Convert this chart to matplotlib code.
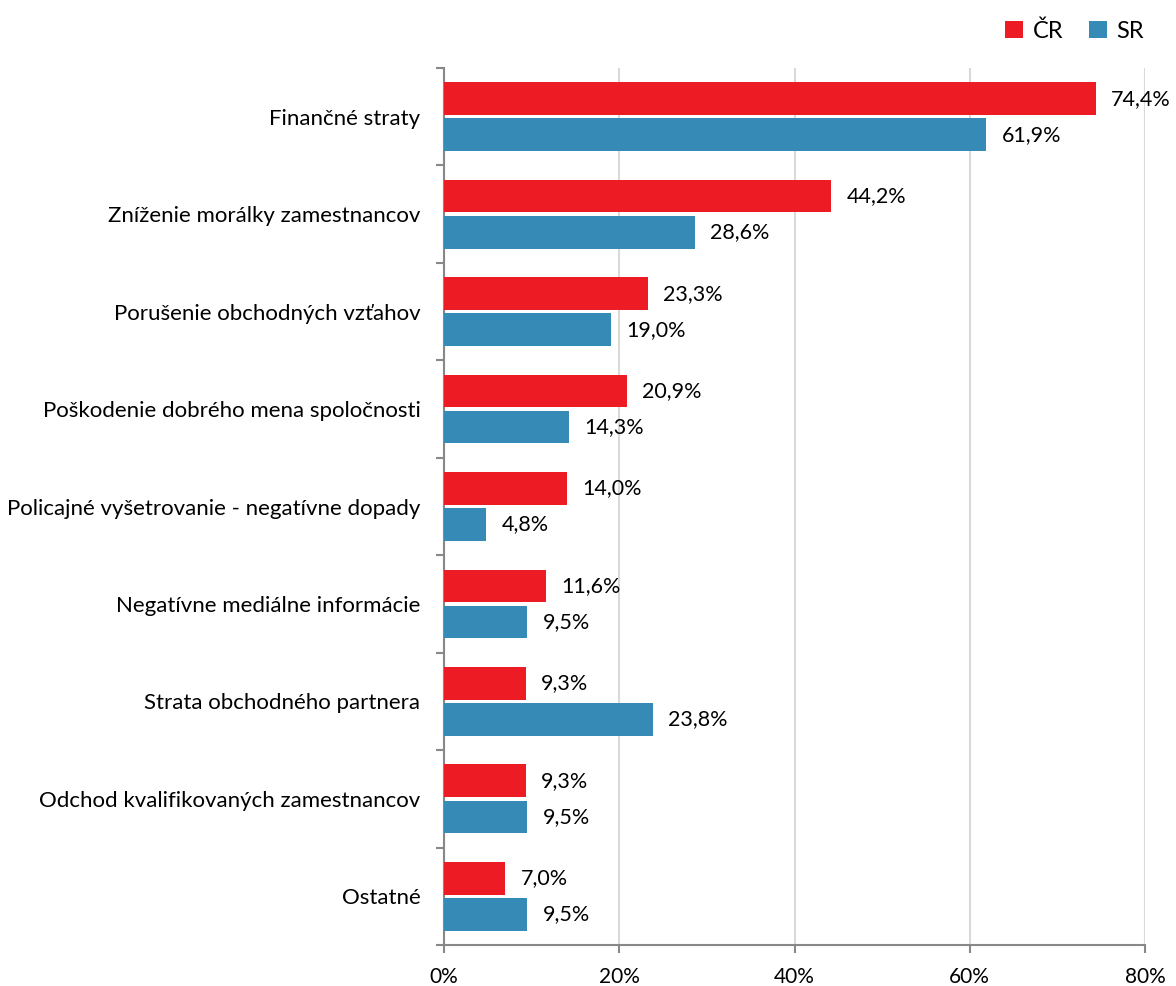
import matplotlib
matplotlib.use("Agg")
import matplotlib.pyplot as plt
import numpy as np

categories = ["Finančné straty", "Zníženie morálky zamestnancov", "Porušenie obchodných vzťahov",
              "Poškodenie dobrého mena spoločnosti", "Policajné vyšetrovanie - negatívne dopady",
              "Negatívne mediálne informácie", "Strata obchodného partnera",
              "Odchod kvalifikovaných zamestnancov", "Ostatné"]
cr_values = [74.4, 44.2, 23.3, 20.9, 14.0, 11.6, 9.3, 9.3, 7.0]
sr_values = [61.9, 28.6, 19.0, 14.3, 4.8, 9.5, 23.8, 9.5, 9.5]
series_names = ["ČR", "SR"]
x_ticks = [0, 20, 40, 60, 80]

plt.rcParams['font.family'] = ['Lato', 'DejaVu Sans']
RED = "#ED1C24"
BLUE = "#368AB6"

fig = plt.figure(figsize=(11.76, 9.86), dpi=100)
ax = fig.add_axes([0.3776, 0.0416, 0.5960, 0.8894])

n = len(categories)
y = np.arange(n)
h = 0.335
off = 0.185
ax.barh(y - off, cr_values, height=h, color=RED, label=series_names[0], zorder=3)
ax.barh(y + off, sr_values, height=h, color=BLUE, label=series_names[1], zorder=3)

def fmt(v):
    return f"{v:.1f}%".replace(".", ",")

for yy, v in zip(y - off, cr_values):
    ax.annotate(fmt(v), (v, yy), xytext=(11, 0), textcoords="offset points",
                va="center", ha="left", fontsize=15.5)
for yy, v in zip(y + off, sr_values):
    ax.annotate(fmt(v), (v, yy), xytext=(11, 0), textcoords="offset points",
                va="center", ha="left", fontsize=15.5)

ax.set_xlim(0, 80)
ax.set_ylim(n - 0.5, -0.5)
ax.set_xticks(x_ticks)
ax.set_xticklabels([f"{t}%" for t in x_ticks], fontsize=15)
ax.set_yticks(y)
ax.set_yticklabels(categories, fontsize=16)
ax.tick_params(axis="y", length=0, pad=17)
ax.set_yticks(np.arange(-0.5, n, 1), minor=True)
ax.tick_params(axis="y", which="minor", length=6, color="#888888", width=1.5)
ax.tick_params(axis="x", length=6, color="#888888", width=1.5, pad=10)
ax.grid(axis="x", color="#D9D9D9", linewidth=1.5, zorder=0)
for s in ["top", "right"]:
    ax.spines[s].set_visible(False)
for s in ["left", "bottom"]:
    ax.spines[s].set_color("#888888")
    ax.spines[s].set_linewidth(1.5)

ax.legend(loc="upper right", bbox_to_anchor=(1.012, 1.065), ncol=2, frameon=False,
          fontsize=17, handlelength=0.75, handleheight=0.75, handletextpad=0.4,
          columnspacing=1.1, borderaxespad=0)

fig.savefig("out.png", dpi=100)
